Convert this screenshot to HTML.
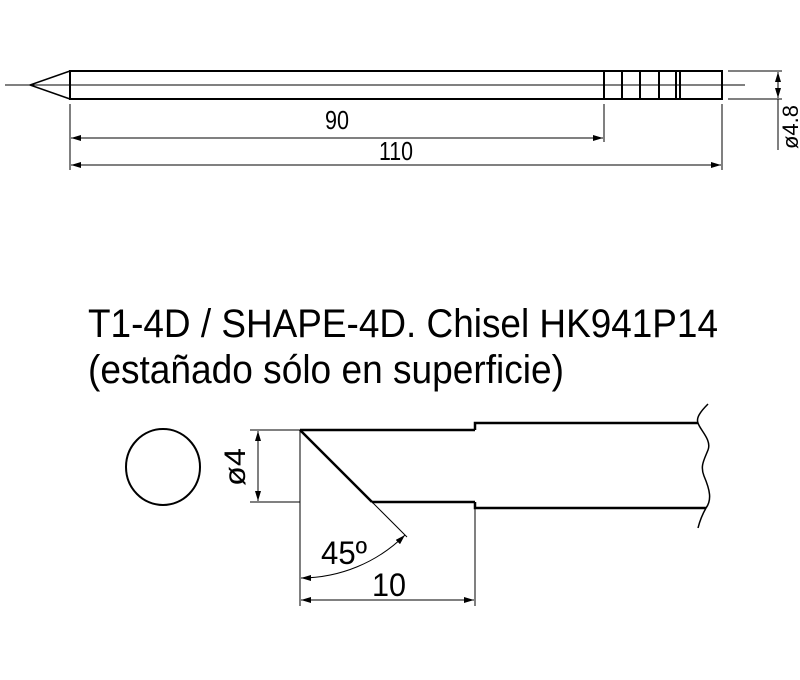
<!DOCTYPE html>
<html><head><style>body{margin:0;background:#fff}svg{display:block}</style></head><body>
<svg width="800" height="680" viewBox="0 0 800 680" xmlns="http://www.w3.org/2000/svg" font-family="Liberation Sans, sans-serif">
<defs>
<marker id="a" viewBox="0 0 10 6" refX="10" refY="3" markerWidth="10" markerHeight="6" orient="auto-start-reverse" markerUnits="userSpaceOnUse"><path d="M0,0L10,3L0,6z" fill="#000"/></marker>
</defs>
<g stroke="#000" fill="none">
<line x1="5" y1="85" x2="745" y2="85" stroke-width="1"/>
<rect x="70" y="71" width="652" height="28" stroke-width="2"/>
<polyline points="70,71 30,85 70,99" stroke-width="1.5"/>
<g stroke-width="2"><line x1="604" y1="71" x2="604" y2="99"/><line x1="622" y1="71" x2="622" y2="99"/><line x1="640" y1="71" x2="640" y2="99"/><line x1="659" y1="71" x2="659" y2="99"/><line x1="676" y1="71" x2="676" y2="99"/><line x1="680" y1="71" x2="680" y2="99"/></g>
<g stroke-width="1">
<line x1="70" y1="104" x2="70" y2="170"/><line x1="604" y1="104" x2="604" y2="142"/><line x1="722" y1="104" x2="722" y2="170"/>
<line x1="71" y1="138" x2="603" y2="138" marker-start="url(#a)" marker-end="url(#a)"/>
<line x1="71" y1="165" x2="721" y2="165" marker-start="url(#a)" marker-end="url(#a)"/>
<line x1="728" y1="71" x2="782" y2="71"/><line x1="728" y1="99" x2="782" y2="99"/>
<line x1="778" y1="72" x2="778" y2="98" marker-start="url(#a)" marker-end="url(#a)"/>
<line x1="778" y1="99" x2="778" y2="150"/>
</g>
<ellipse cx="163" cy="467" rx="37" ry="38" stroke-width="2"/>
<g stroke-width="2.5">
<polyline points="300,430 475,430"/><polyline points="372,502 475,502"/>
<line x1="300" y1="430" x2="372" y2="502"/>
<polyline points="475,430 475,423 698,423"/><polyline points="475,502 475,508 706,508"/>
</g>
<path d="M708,404 C700,412 696,418 698,423 C700,430 712,440 708,450 C704,460 700,466 704,476 C710,490 712,500 706,508 C702,515 700,520 698,528" stroke-width="1.5"/>
<g stroke-width="1">
<line x1="372" y1="502" x2="407" y2="537"/>
<line x1="250" y1="430" x2="300" y2="430"/><line x1="250" y1="502" x2="300" y2="502"/>
<line x1="258" y1="431" x2="258" y2="501" marker-start="url(#a)" marker-end="url(#a)"/>
<line x1="300" y1="430" x2="300" y2="606"/><line x1="475" y1="508" x2="475" y2="606"/>
<line x1="301" y1="600" x2="474" y2="600" marker-start="url(#a)" marker-end="url(#a)"/>
<path d="M301,578 A148,148 0 0 0 405,535" marker-start="url(#a)" marker-end="url(#a)"/>
</g>
</g>
<g fill="#000">
<text x="337" y="129" font-size="26" text-anchor="middle" textLength="24" lengthAdjust="spacingAndGlyphs">90</text>
<text x="396" y="160" font-size="26" text-anchor="middle" textLength="34" lengthAdjust="spacingAndGlyphs">110</text>
<text transform="translate(798,127) rotate(-90)" font-size="22" text-anchor="middle" textLength="44" lengthAdjust="spacingAndGlyphs">ø4.8</text>
<text x="88" y="337" font-size="40" textLength="630" lengthAdjust="spacingAndGlyphs">T1-4D / SHAPE-4D. Chisel HK941P14</text>
<text x="88" y="383" font-size="40" textLength="476" lengthAdjust="spacingAndGlyphs">(estañado sólo en superficie)</text>
<text transform="translate(245,467) rotate(-90)" font-size="30" text-anchor="middle" textLength="38" lengthAdjust="spacingAndGlyphs">ø4</text>
<text x="321" y="564" font-size="32" textLength="46" lengthAdjust="spacingAndGlyphs">45º</text>
<text x="372" y="596" font-size="32" textLength="34" lengthAdjust="spacingAndGlyphs">10</text>
</g>
</svg>
</body></html>
